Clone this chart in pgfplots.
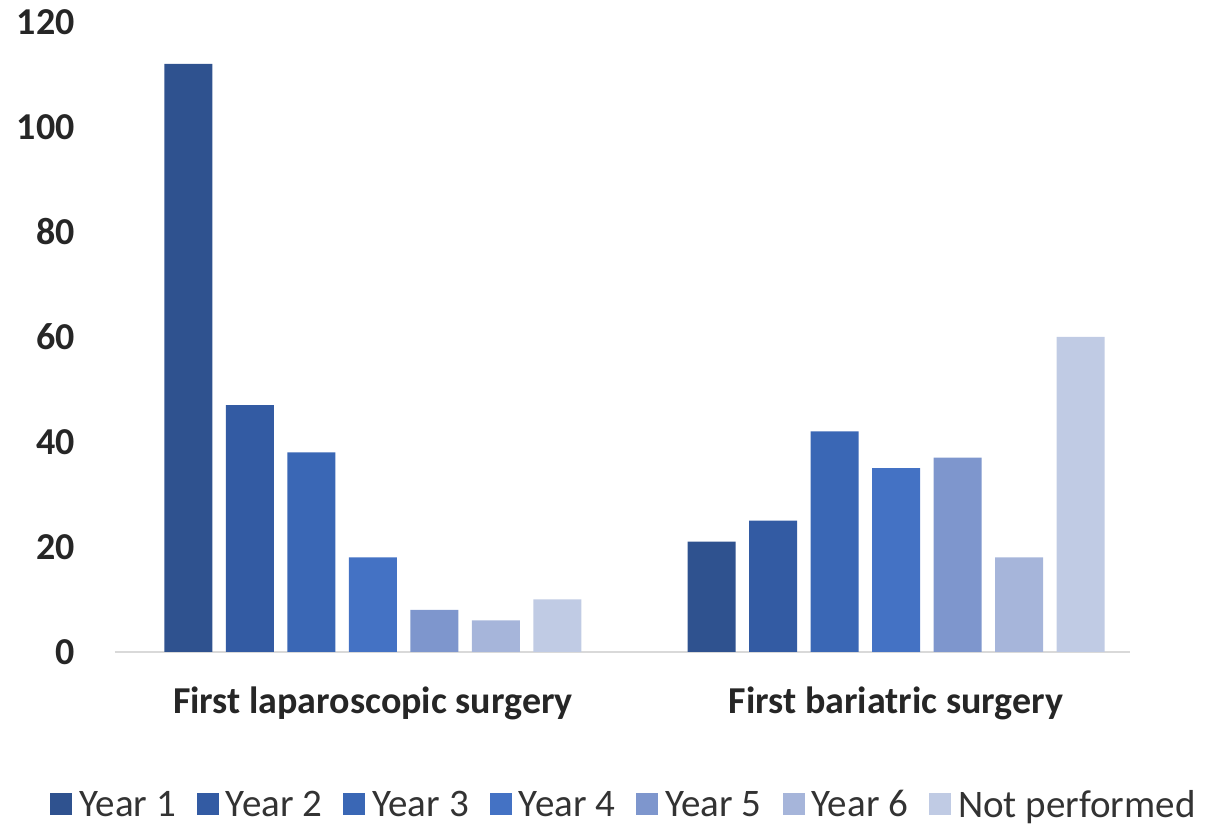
\documentclass[border=0pt]{standalone}
\usepackage{pgfplots}
\pgfplotsset{compat=1.18}
\usepackage{fontspec}
\setmainfont{Carlito}

\definecolor{yone}{RGB}{47,82,143}
\definecolor{ytwo}{RGB}{51,91,163}
\definecolor{ythree}{RGB}{58,103,181}
\definecolor{yfour}{RGB}{68,114,196}
\definecolor{yfive}{RGB}{126,150,205}
\definecolor{ysix}{RGB}{166,181,218}
\definecolor{notp}{RGB}{192,203,228}
\definecolor{axgray}{RGB}{217,217,217}

\begin{document}
\begin{tikzpicture}
\begin{axis}[
    scale only axis,
    width=507.5pt, height=315pt,
    ybar, bar width=24pt,
    xmin=-0.493, xmax=1.447,
    ymin=0, ymax=120,
    ytick={0,20,...,120},
    xtick={0,1},
    xticklabels={First laparoscopic surgery, First bariatric surgery},
    axis x line=bottom, axis y line=left,
    x axis line style={draw=axgray, thick, -},
    y axis line style={draw=none},
    major tick length=0pt,
    clip=false,
    xticklabel style={font=\fontsize{19}{22}\selectfont\bfseries, text=black!85,
        inner sep=0pt, yshift=-17pt},
    yticklabel style={font=\fontsize{19}{22}\selectfont\bfseries, text=black!85,
        inner sep=0pt, xshift=-20pt},
    /pgf/number format/assume math mode=true,
    legend style={draw=none, at={(0.502,-0.243)}, anchor=center, inner sep=0pt,
        legend columns=-1, font=\fontsize{19.5}{22}\selectfont, text=black!80,
        nodes={inner sep=1.5pt},
        /tikz/every odd column/.append style={column sep=2pt},
        /tikz/every even column/.append style={column sep=9pt}},
    legend image code/.code={\fill[#1] (0pt,-5pt) rectangle (11pt,6pt);},
]
\addplot[fill=yone, draw=none, bar shift=-92.25pt] coordinates {(0,112) (1,21)};
\addlegendentry{Year 1}
\addplot[fill=ytwo, draw=none, bar shift=-61.5pt] coordinates {(0,47) (1,25)};
\addlegendentry{Year 2}
\addplot[fill=ythree, draw=none, bar shift=-30.75pt] coordinates {(0,38) (1,42)};
\addlegendentry{Year 3}
\addplot[fill=yfour, draw=none, bar shift=0pt] coordinates {(0,18) (1,35)};
\addlegendentry{Year 4}
\addplot[fill=yfive, draw=none, bar shift=30.75pt] coordinates {(0,8) (1,37)};
\addlegendentry{Year 5}
\addplot[fill=ysix, draw=none, bar shift=61.5pt] coordinates {(0,6) (1,18)};
\addlegendentry{Year 6}
\addplot[fill=notp, draw=none, bar shift=92.25pt] coordinates {(0,10) (1,60)};
\addlegendentry{Not performed}
\coordinate (bbsw) at (rel axis cs:-0.1133,-0.281);
\coordinate (bbne) at (rel axis cs:1.0897,1.0349);
\end{axis}
\pgfresetboundingbox
\useasboundingbox (bbsw) rectangle (bbne);
\end{tikzpicture}
\end{document}
